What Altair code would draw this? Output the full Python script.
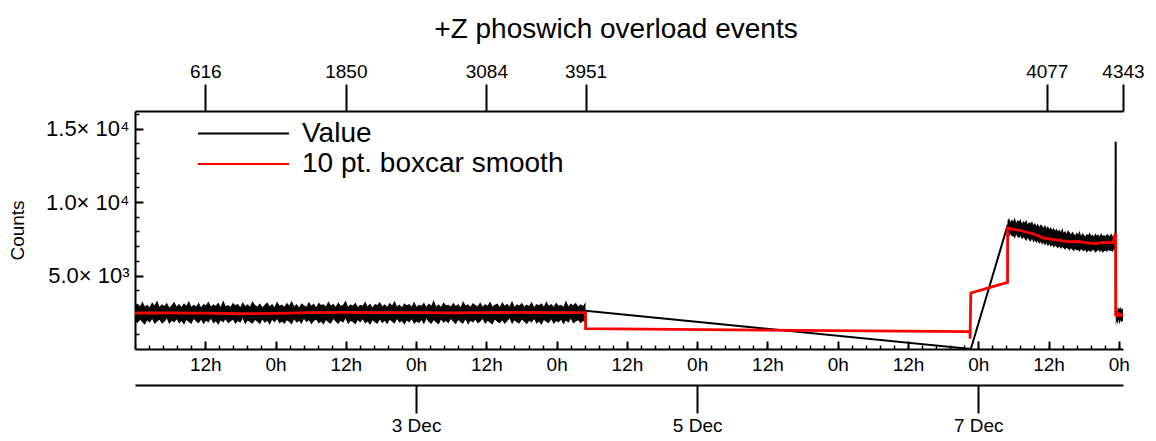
import altair as alt
import pandas as pd
import numpy as np

FONT = "Liberation Sans"
TITLE = "+Z phoswich overload events"
Y_TITLE = "Counts"
SERIES = ["Value", "10 pt. boxcar smooth"]
SERIES_COLORS = ["#000000", "#ff0000"]

x_start = "2003-12-01T00:00:00Z"
x_end = "2003-12-08T00:43:00Z"
y_max = 16200

# noisy segments: time range + upper / lower envelope of the raw values
seg1_range = ("2003-12-01T00:00:00Z", "2003-12-04T04:56:00Z")
upper1 = [2950, 3100, 2880, 3250, 2900, 3020, 2850, 3180, 2960, 3300,
          2870, 3050, 2930, 3150, 2820, 3000, 3220, 2900, 3080, 2860,
          3120, 2940, 3280, 2880, 3010, 2900, 3160, 2840, 3060, 2970,
          3230, 2890, 3040, 2950, 3170, 2860, 3310, 2920, 3000, 2880,
          3140, 2970, 3080, 2850, 3200, 2930, 3050, 2870, 3260, 2990,
          2900, 3110, 2840, 3020, 3190, 2910, 3070, 2860, 3240, 2950,
          3030, 2880, 3150, 2960, 3290, 2900, 3060, 2830, 3120, 2980,
          2870, 3210, 2940, 3090, 2850, 3170, 2990, 3040, 2890, 3250,
          2960, 3080, 2870, 3180, 2920, 3010, 3300, 2880, 3050, 2940,
          3160, 2860, 3020, 2950, 3230, 2900, 3100, 2840, 3070, 2990,
          3200, 2910, 3040, 2870, 3150, 2960, 3280, 2890, 3030, 2850,
          3120, 2980, 3060, 2900, 3240, 2870, 3010, 2950, 3170, 2880,
          3090, 2940, 3320, 2900, 3050, 2860, 3190, 2970, 3020, 2890,
          3150, 2920, 3070, 2850, 3260, 2960, 3040, 2880, 3130, 2990,
          2910, 3180, 2870, 3060, 2940, 3230, 2890, 3010, 3100, 2860,
          3200, 2950, 3080, 2900, 3290, 2870, 3040, 2960, 3150, 2890,
          3030, 2920, 3210, 2860, 3070, 2980, 3120, 2900, 3250, 2940,
          3060, 2880, 3170, 2950, 3020, 2870, 3300, 2910, 3090, 2970,
          3140, 2890, 3050, 2930, 3190]
lower1 = [1900, 1750, 2000, 1820, 1650, 1950, 1780, 2050, 1700, 1880,
          1990, 1720, 1860, 2080, 1680, 1930, 1800, 2020, 1740, 1900,
          1650, 1970, 1830, 1710, 2040, 1880, 1760, 1990, 1690, 1920,
          1810, 2060, 1730, 1890, 1640, 1960, 1800, 2030, 1750, 1870,
          2000, 1700, 1910, 1780, 2070, 1660, 1940, 1820, 1720, 1980,
          1850, 1690, 2010, 1770, 1920, 1630, 1990, 1800, 2050, 1740,
          1880, 1710, 1960, 1830, 1670, 2020, 1790, 1930, 1700, 2060,
          1820, 1950, 1680, 1890, 2000, 1740, 1870, 1650, 1980, 1810,
          1720, 2040, 1860, 1700, 1930, 1780, 2070, 1690, 1900, 1840,
          1660, 1970, 1800, 2030, 1730, 1880, 1640, 1950, 1820, 1710,
          2010, 1760, 1920, 1680, 1990, 1850, 1720, 2050, 1790, 1900,
          1650, 1940, 1810, 2020, 1700, 1870, 1760, 1980, 1690, 2060,
          1830, 1710, 1950, 1800, 1660, 2000, 1780, 1910, 1740, 2040,
          1860, 1690, 1970, 1820, 1720, 2030, 1650, 1920, 1800, 1990,
          1740, 1880, 2050, 1700, 1930, 1790, 1670, 2010, 1840, 1760,
          1960, 1710, 1890, 2070, 1680, 1950, 1810, 1730, 2000, 1850,
          1690, 1920, 1780, 2040, 1720, 1880, 1640, 1970, 1830, 1760,
          2020, 1700, 1900, 1810, 1990, 1670, 1940, 1790, 2060, 1730,
          1870, 1960, 1750, 1900, 1820]

seg2_range = ("2003-12-07T05:00:00Z", "2003-12-07T23:27:00Z")
upper2 = [8750, 8900, 8650, 8820, 8700, 8950, 8600, 8780, 8680, 8850,
          8550, 8720, 8600, 8800, 8480, 8650, 8550, 8700, 8420, 8600,
          8350, 8550, 8300, 8480, 8400, 8250, 8450, 8200, 8380, 8150,
          8300, 8100, 8250, 8050, 8200, 8000, 8150, 7950, 8250, 7900,
          8050, 7850, 8100, 7950, 7800, 8000, 7850, 7750, 7950, 7800,
          8050, 7700, 7900, 7780, 7650, 7850, 7750, 7950, 7700, 7800,
          7650, 7880, 7720, 7800, 7650, 7900, 7700, 7780, 7650, 7850,
          7750, 7700, 7880, 7650, 7800, 7900]
lower2 = [7750, 7600, 7850, 7650, 7700, 7500, 7800, 7600, 7550, 7700,
          7450, 7600, 7500, 7350, 7550, 7400, 7300, 7500, 7250, 7400,
          7200, 7350, 7150, 7300, 7100, 7250, 7050, 7200, 7000, 7150,
          6950, 7100, 6900, 7050, 6950, 6850, 7000, 6800, 6950, 6850,
          6750, 6900, 6800, 6700, 6850, 6750, 6650, 6800, 6700, 6750,
          6600, 6800, 6700, 6650, 6750, 6550, 6700, 6650, 6600, 6750,
          6700, 6550, 6650, 6750, 6600, 6700, 6550, 6650, 6700, 6600,
          6750, 6650, 6700, 6600, 6800, 6750]

seg3_range = ("2003-12-07T23:29:00Z", "2003-12-08T00:43:00Z")
upper3 = [2750, 2950, 2600, 2850, 2700, 2900, 2650, 2800, 2700]
lower3 = [1550, 1900, 1700, 2000, 1650, 1950, 1800, 1900, 1850]

# raw value line (connecting points across gaps)
value_times = ["2003-12-01T00:00:00Z", "2003-12-04T04:56:00Z", "2003-12-06T22:44:00Z",
               "2003-12-07T05:00:00Z", "2003-12-07T08:00:00Z", "2003-12-07T12:00:00Z",
               "2003-12-07T16:00:00Z", "2003-12-07T20:00:00Z", "2003-12-07T23:27:00Z",
               "2003-12-07T23:28:00Z", "2003-12-07T23:29:00Z", "2003-12-08T00:43:00Z"]
value_counts = [2450, 2600, 0, 8400, 7950, 7500, 7300, 7150, 7300, 14100, 2300, 2300]

# 10 pt boxcar smooth
smooth_times = ["2003-12-01T00:00:00Z", "2003-12-01T06:00:00Z", "2003-12-01T12:00:00Z",
                "2003-12-01T18:00:00Z", "2003-12-02T00:00:00Z", "2003-12-02T06:00:00Z",
                "2003-12-02T12:00:00Z", "2003-12-02T18:00:00Z", "2003-12-03T00:00:00Z",
                "2003-12-03T06:00:00Z", "2003-12-03T12:00:00Z", "2003-12-03T18:00:00Z",
                "2003-12-04T00:00:00Z", "2003-12-04T04:56:00Z", "2003-12-04T04:57:00Z",
                "2003-12-06T22:35:00Z", "2003-12-06T22:36:00Z", "2003-12-06T22:44:00Z",
                "2003-12-07T05:00:00Z", "2003-12-07T05:01:00Z",
                "2003-12-07T06:00:00Z", "2003-12-07T07:00:00Z", "2003-12-07T08:00:00Z",
                "2003-12-07T09:00:00Z", "2003-12-07T10:00:00Z", "2003-12-07T11:00:00Z",
                "2003-12-07T12:00:00Z", "2003-12-07T13:00:00Z", "2003-12-07T14:00:00Z",
                "2003-12-07T15:00:00Z", "2003-12-07T16:00:00Z", "2003-12-07T17:00:00Z",
                "2003-12-07T18:00:00Z", "2003-12-07T19:00:00Z", "2003-12-07T20:00:00Z",
                "2003-12-07T21:00:00Z", "2003-12-07T22:00:00Z", "2003-12-07T23:00:00Z",
                "2003-12-07T23:25:00Z", "2003-12-07T23:28:00Z", "2003-12-07T23:29:00Z",
                "2003-12-07T23:45:00Z", "2003-12-08T00:00:00Z", "2003-12-08T00:15:00Z",
                "2003-12-08T00:30:00Z", "2003-12-08T00:43:00Z"]
smooth_counts = [2450, 2460, 2440, 2400, 2420, 2470, 2490, 2470, 2480, 2460, 2470, 2490,
                 2480, 2470, 1380, 1180, 700, 3810, 4530, 8240,
                 8150, 8080, 7980, 7880, 7750, 7560, 7500, 7440, 7400, 7330, 7300, 7320,
                 7250, 7200, 7180, 7240, 7250, 7230,
                 7850, 7750, 2300, 2250, 2400, 2280, 2350, 2300]

# top axis: sample index at given times
top_index_labels = ["616", "1850", "3084", "3951", "4077", "4343"]
top_index_times = ["2003-12-01T12:00:00Z", "2003-12-02T12:00:00Z", "2003-12-03T12:00:00Z",
                   "2003-12-04T04:56:00Z", "2003-12-07T11:42:00Z", "2003-12-08T00:43:00Z"]

y_major = [5000, 10000, 15000]
y_major_labels = ["5.0× 10³", "1.0× 10⁴", "1.5× 10⁴"]
y_minor = list(range(1000, 17000, 1000))

date_ticks = ["2003-12-03T00:00:00Z", "2003-12-05T00:00:00Z", "2003-12-07T00:00:00Z"]


def ms(ts):
    return int(pd.Timestamp(ts).value // 10**6)


W, H = 988, 238

hour_ms = [ms(t) for t in pd.date_range("2003-12-01T12:00:00Z", "2003-12-08T00:00:00Z", freq="12h")]
minor_ms = [ms(t) for t in pd.date_range("2003-12-01T00:00:00Z", "2003-12-08T00:00:00Z", freq="144min")]
date_ms = [ms(t) for t in date_ticks]
top_ms = [ms(t) for t in top_index_times]

# band data
rows = []
for k, (rng, up, lo) in enumerate([(seg1_range, upper1, lower1), (seg2_range, upper2, lower2),
                                    (seg3_range, upper3, lower3)]):
    n = min(len(up), len(lo))
    ts = np.linspace(ms(rng[0]), ms(rng[1]), n)
    for i in range(n):
        rows.append({"t": float(ts[i]), "hi": up[i], "lo": lo[i], "seg": k})
band_df = pd.DataFrame(rows)

val_df = pd.DataFrame({"t": [ms(t) for t in value_times], "v": value_counts,
                       "series": SERIES[0], "i": range(len(value_times))})
sm_df = pd.DataFrame({"t": [ms(t) for t in smooth_times], "v": smooth_counts,
                      "series": SERIES[1], "i": range(len(smooth_times))})

xscale = alt.Scale(type="utc", domain=[ms(x_start), ms(x_end)], nice=False)
yscale = alt.Scale(domain=[0, y_max], nice=False, zero=True)

common = dict(grid=False, title=None, labelFont=FONT, labelColor="black",
              domainColor="black", tickColor="black")

ax_hours = alt.Axis(orient="bottom", values=hour_ms,
                    labelExpr="utchours(datum.value) == 0 ? '0h' : '12h'",
                    ticks=False, domain=True, domainWidth=2, labelPadding=6,
                    labelFontSize=19, labelFlush=False, labelOverlap=False, **common)
ax_hmaj = alt.Axis(orient="top", offset=-H, values=hour_ms, tickSize=8, tickWidth=2,
                   labels=False, domain=False, **common)
ax_hmin = alt.Axis(orient="top", offset=-H, values=minor_ms, tickSize=4, tickWidth=1.5,
                   labels=False, domain=False, **common)
ax_dates = alt.Axis(orient="bottom", offset=36, values=date_ms,
                    labelExpr="utcFormat(datum.value, '%-d %b')",
                    tickSize=28, tickWidth=2, domainWidth=2, labelPadding=3,
                    labelFontSize=19, labelFlush=False, labelOverlap=False, **common)
top_expr = "''"
for v, l in reversed(list(zip(top_ms, top_index_labels))):
    top_expr = "abs(time(datum.value) - %d) < 60000 ? '%s' : %s" % (v, l, top_expr)
ax_top = alt.Axis(orient="top", values=top_ms, labelExpr=top_expr, tickSize=27, tickWidth=2,
                  domainWidth=2, labelPadding=3, labelFontSize=19, labelFlush=False,
                  labelOverlap=False, **common)

y_expr = "''"
for v, l in reversed(list(zip(y_major, y_major_labels))):
    y_expr = "datum.value == %d ? '%s' : %s" % (v, l, y_expr)
ax_yl = alt.Axis(orient="left", values=y_major, labelExpr=y_expr, ticks=False, domain=True,
                 domainWidth=2, labelPadding=6, labelFontSize=22, grid=False,
                 title=Y_TITLE, titleFont=FONT, titleFontSize=19, titleFontWeight="normal",
                 titlePadding=18, titleColor="black", labelFont=FONT, labelColor="black",
                 domainColor="black", labelOverlap=False)
ax_ymaj = alt.Axis(orient="right", offset=-W, values=y_major, tickSize=8, tickWidth=2,
                   labels=False, domain=False, **common)
ax_ymin = alt.Axis(orient="right", offset=-W, values=y_minor, tickSize=4, tickWidth=1.5,
                   labels=False, domain=False, **common)


def make_legend(legend_y):
    return alt.Legend(orient="none", legendX=62, legendY=legend_y, title=None,
                      symbolType="stroke", symbolSize=8281, symbolStrokeWidth=2,
                      labelFont=FONT, labelFontSize=28, labelColor="black",
                      labelOffset=12, padding=0, labelLimit=0)


color_value = alt.Color("series:N",
                        scale=alt.Scale(domain=[SERIES[0]], range=[SERIES_COLORS[0]]),
                        legend=make_legend(-24))
color_smooth = alt.Color("series:N",
                         scale=alt.Scale(domain=[SERIES[1]], range=[SERIES_COLORS[1]]),
                         legend=make_legend(6.5))

band = alt.Chart(band_df).mark_area(color="black", interpolate="linear").encode(
    x=alt.X("t:T", scale=xscale, axis=ax_hours),
    y=alt.Y("lo:Q", scale=yscale, axis=ax_yl),
    y2="hi:Q",
    detail="seg:N",
)

black = alt.Chart(val_df).mark_line(strokeWidth=2).encode(
    x=alt.X("t:T", scale=xscale, axis=ax_top),
    y=alt.Y("v:Q", scale=yscale, axis=ax_ymaj),
    color=color_value,
    order="i:Q",
)

red = alt.Chart(sm_df).mark_line(strokeWidth=2.8).encode(
    x=alt.X("t:T", scale=xscale, axis=ax_hmaj),
    y=alt.Y("v:Q", scale=yscale, axis=ax_ymin),
    color=color_smooth,
    order="i:Q",
)

ghost1 = alt.Chart(val_df).mark_point(opacity=0, size=1).encode(
    x=alt.X("t:T", scale=xscale, axis=ax_hmin),
    y=alt.Y("v:Q", scale=yscale, axis=None),
)
ghost2 = alt.Chart(val_df).mark_point(opacity=0, size=1).encode(
    x=alt.X("t:T", scale=xscale, axis=ax_dates),
    y=alt.Y("v:Q", scale=yscale, axis=None),
)

chart = alt.layer(band, black, red, ghost1, ghost2).resolve_axis(
    x="independent", y="independent"
).resolve_scale(color="independent").properties(
    width=W, height=H,
    title=alt.TitleParams(TITLE, font=FONT, fontSize=28, fontWeight="normal",
                          anchor="middle", dx=-13, offset=18, color="black"),
    padding={"left": 127, "top": 103, "right": 25, "bottom": 88},
    autosize=alt.AutoSizeParams(type="none"),
).configure_view(stroke=None)

chart.save("out.html", embed_options={"renderer": "svg", "actions": False})
